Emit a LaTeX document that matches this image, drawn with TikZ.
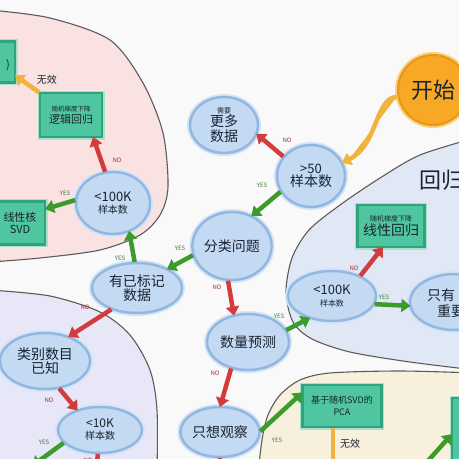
\documentclass[tikz,border=0pt]{standalone}
\usepackage{fontspec}
\setmainfont{Noto Sans CJK SC}
\usetikzlibrary{arrows.meta,shapes.geometric}
\definecolor{bgc}{HTML}{F9F9F9}
\definecolor{pinkf}{HTML}{FBE2E2}
\definecolor{bluef}{HTML}{E0E8F6}
\definecolor{lavf}{HTML}{E7E7F7}
\definecolor{beigef}{HTML}{F7F0DC}
\definecolor{regb}{HTML}{5E5A5A}
\definecolor{nodef}{HTML}{C3DAF2}
\definecolor{nodeb}{HTML}{92B7E2}
\definecolor{nodeg}{HTML}{D3E4F6}
\definecolor{boxf}{HTML}{4FC6A0}
\definecolor{boxb}{HTML}{2FA37C}
\definecolor{boxg}{HTML}{A8E2CC}
\definecolor{orf}{HTML}{F7A824}
\definecolor{orb}{HTML}{E8961A}
\definecolor{org}{HTML}{FAD27A}
\definecolor{arrred}{HTML}{D23C3C}
\definecolor{arrgreen}{HTML}{3B9B2B}
\definecolor{arror}{HTML}{F2B33D}
\definecolor{txt}{HTML}{1A2330}
\definecolor{nored}{HTML}{B03030}
\definecolor{yesgreen}{HTML}{3D7A2A}
\newcommand{\fs}[1]{\fontsize{#1}{#1}\selectfont}
\tikzset{
  ell/.style={ellipse, inner sep=0pt, outer sep=0pt, fill=nodef, draw=nodeb, line width=2.5pt,
    preaction={draw=nodeg, line width=6pt}, text=txt, align=center},
  boxn/.style={rectangle, inner sep=0pt, outer sep=0pt, fill=boxf, draw=boxb, line width=2.5pt,
    preaction={draw=boxg, line width=5pt}, text=txt, align=center},
  arr/.style={line width=4.5pt, -{Triangle[width=13pt,length=9pt]}, shorten <=1pt},
  redarr/.style={arr, draw=arrred, fill=arrred},
  grarr/.style={arr, draw=arrgreen, fill=arrgreen},
  orarr/.style={arr, draw=arror, fill=arror},
  nolab/.style={text=nored, font=\fs{6}, inner sep=0pt},
  yeslab/.style={text=yesgreen, font=\fs{6}, inner sep=0pt},
  wxlab/.style={text=txt, font=\fs{10}, inner sep=0pt},
  region/.style={draw=regb, line width=1.1pt}
}
\begin{document}
\begin{tikzpicture}[x=1pt,y=-1pt]
\useasboundingbox (0,0) rectangle (459,459);
\fill[bgc] (0,0) rectangle (459,459);
% regions
\filldraw[region, fill=pinkf] plot[smooth] coordinates {(-10,10) (50,18) (110,40) (143,83) (163,133) (168,187) (160,215) (140,235) (100,250) (40,258) (-10,262)} -- cycle;
\filldraw[region, fill=lavf] plot[smooth] coordinates {(-10,290) (50,296) (100,312) (130,335) (150,370) (157,410) (157,475)} -- (-10,475) -- cycle;
\filldraw[region, fill=bluef] plot[smooth] coordinates {(475,138) (420,155) (380,178) (340,205) (309,230) (292,258) (286,292) (293,322) (312,339) (350,352) (410,362) (475,370)} -- cycle;
\filldraw[region, fill=beigef] plot[smooth] coordinates {(258,475) (262,440) (268,415) (280,395) (300,380) (330,373) (400,371) (475,373)} -- (475,475) -- cycle;
\node[text=txt, font=\fs{22}] (reglab) at (441,180) {回归};
% nodes
\node[circle, minimum size=70pt, inner sep=0pt, fill=orf, draw=orb, line width=2pt,
  preaction={draw=org, line width=6pt}, text=txt, font=\fs{22}] (start) at (433,90) {开始};
\node[ell, minimum width=68pt, minimum height=62pt] (s50) at (311,176) {\fs{13}>50\\[1.5pt]\fs{14}样本数};
\node[ell, minimum width=68pt, minimum height=56pt] (more) at (224,125) {\fs{7}需要\\\fs{14}更多\\[1pt]\fs{14}数据};
\node[ell, minimum width=76pt, minimum height=68pt, font=\fs{14}] (cls) at (232,246) {分类问题};
\node[ell, minimum width=90pt, minimum height=50pt] (lab) at (137,288) {\fs{14}有已标记\\\fs{14}数据};
\node[ell, minimum width=74pt, minimum height=62pt] (lt100a) at (113,203) {\fs{13}<100K\\\fs{10}样本数};
\node[ell, minimum width=90pt, minimum height=56pt] (cat) at (45,361) {\fs{14}类别数目\\\fs{14}已知};
\node[ell, minimum width=84pt, minimum height=46pt] (lt10) at (100,430) {\fs{12}<10K\\\fs{10}样本数};
\node[ell, minimum width=82pt, minimum height=56pt, font=\fs{14}] (qty) at (248,342) {数量预测};
\node[ell, minimum width=72pt, minimum height=50pt, font=\fs{14}] (obs) at (220,432) {只想观察};
\node[ell, minimum width=88pt, minimum height=50pt] (lt100b) at (332,296) {\fs{13}<100K\\\fs{8}样本数};
\node[ell, minimum width=90pt, minimum height=56pt] (few) at (455,302) {};
\node[anchor=west, inner sep=0pt, text=txt, font=\fs{14}] (fewa) at (427,295) {只有};
\node[anchor=west, inner sep=0pt, text=txt, font=\fs{14}] (fewb) at (437,311) {重要};
% boxes
\node[boxn, minimum width=50pt, minimum height=41pt] (tlbox) at (-10,62) {};
\node[inner sep=0pt, text=txt, font=\fs{11}] (tlt) at (8,65) {)};
\node[boxn, minimum width=62pt, minimum height=44pt] (sgdlog) at (71,115) {\fs{6.5}随机梯度下降\\\fs{11}逻辑回归};
\node[boxn, minimum width=50pt, minimum height=43pt] (svd) at (20,223) {\fs{11}线性核\\\fs{11}SVD};
\node[boxn, minimum width=67pt, minimum height=42pt] (sgdlin) at (391,226) {\fs{7}随机梯度下降\\\fs{14}线性回归};
\node[boxn, minimum width=79pt, minimum height=42pt] (pca) at (342,406) {\fs{9}基于随机SVD的\\\fs{9}PCA};
\node[boxn, minimum width=56pt, minimum height=84pt] (rbbox) at (480,440) {};
% free ends
\coordinate (e1) at (32,466);
\coordinate (e2) at (96,472);
\coordinate (e3) at (219,472);
\coordinate (e4) at (333,472);
\coordinate (e5) at (418,472);
% arrows
\draw[orarr] (start.191) .. controls (375,98) and (378,145) .. (s50.23);
\draw[redarr] (s50.145) -- (more.-15);
\draw[grarr] (s50.207) -- (cls.57);
\draw[grarr] (cls.193) -- (lab.32);
\draw[grarr] (lab.95) -- (lt100a.300);
\draw[redarr] (lt100a.104) -- (sgdlog.-45);
\draw[grarr] (lt100a.175) -- (svd.29);
\draw[orarr] (sgdlog.north west) -- (tlbox.-28);
\draw[redarr] (cls.263) -- (qty.118);
\draw[redarr] (lab.220) -- (cat.46);
\draw[redarr] (cat.297) -- (lt10.139);
\draw[grarr] (lt10.199) -- (e1);
\draw[redarr] (lt10.265) -- (e2);
\draw[grarr] (qty.17) -- (lt100b.225);
\draw[redarr] (lt100b.35) -- (sgdlin.249);
\draw[grarr] (lt100b.349) -- (few.185);
\draw[redarr] (qty.237) -- (obs.north);
\draw[grarr] (obs.east) -- (pca.161);
\draw[redarr] (obs.south) -- (e3);
\draw[orarr] ([xshift=-9pt]pca.south) -- (e4);
\draw[grarr] (e5) -- (rbbox.168);
% labels
\node[nolab] (l1) at (287,140) {NO};
\node[yeslab] (l2) at (262,185) {YES};
\node[yeslab] (l3) at (180,248) {YES};
\node[yeslab] (l4) at (120,258) {YES};
\node[nolab] (l5) at (117,160) {NO};
\node[yeslab] (l6) at (65,193) {YES};
\node[wxlab] (l7) at (47,80) {无效};
\node[nolab] (l8) at (217,287) {NO};
\node[nolab] (l9) at (85,307) {NO};
\node[nolab] (l10) at (49,400) {NO};
\node[yeslab] (l11) at (44,442) {YES};
\node[nolab] (l12) at (88,460) {NO};
\node[yeslab] (l13) at (279,316) {YES};
\node[nolab] (l14) at (354,268) {NO};
\node[yeslab] (l15) at (384,297) {YES};
\node[nolab] (l16) at (215,373) {NO};
\node[yeslab] (l17) at (277,440) {YES};
\node[wxlab] (l18) at (350,444) {无效};
\end{tikzpicture}
\end{document}
